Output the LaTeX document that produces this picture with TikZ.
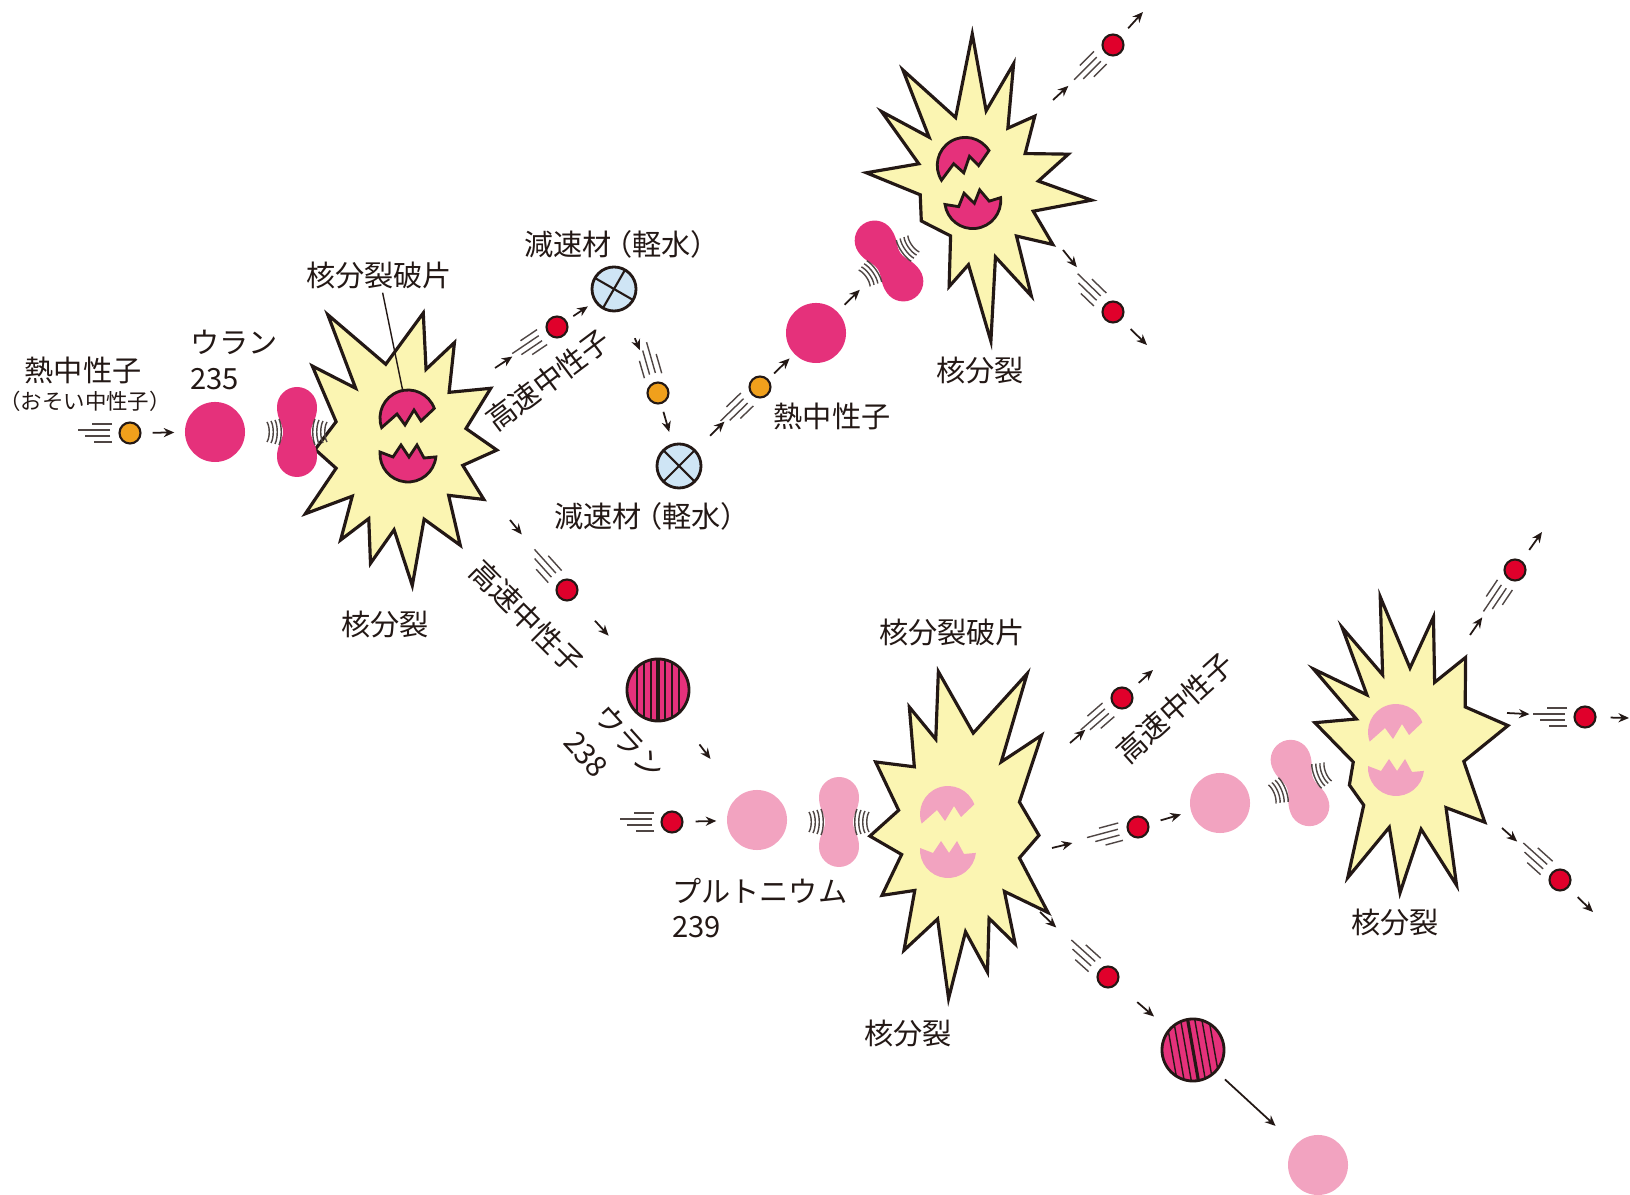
\documentclass[tikz,border=0pt]{standalone}
\usepackage{fontspec}
\newfontfamily\jp{Noto Sans CJK JP}
\usetikzlibrary{arrows.meta}

\definecolor{uranium}{HTML}{E5317B}
\definecolor{plutonium}{HTML}{F2A3C0}
\definecolor{flashfill}{HTML}{FBF5B2}
\definecolor{slowcol}{HTML}{F0A01C}
\definecolor{fastcol}{HTML}{E0002B}
\definecolor{watercol}{HTML}{CFE5F5}
\definecolor{ink}{HTML}{231815}

\tikzset{
  lbl/.style={font=\jp\fontsize{8.3}{10}\selectfont, text=ink, inner sep=1pt},
  slow/.style={circle, draw=ink, line width=.6pt, fill=slowcol, minimum size=.21cm, inner sep=0},
  fast/.style={circle, draw=ink, line width=.6pt, fill=fastcol, minimum size=.21cm, inner sep=0},
  u235/.style={circle, fill=uranium, minimum size=.60cm, inner sep=0},
  pu239/.style={circle, fill=plutonium, minimum size=.60cm, inner sep=0},
  % stripes tilted by #1 degrees
  u238/.style={circle, draw=ink, line width=.8pt, fill=uranium, minimum size=.62cm, inner sep=0,
    path picture={
      \foreach \s in {-21,-14,-7,7,14,21}
        \draw[ink, line width=.4pt] (path picture bounding box.center) ++(-#1:\s) ++(90-#1:-35) -- ++(90-#1:70);
      \draw[ink, line width=.9pt] (path picture bounding box.center) ++(90-#1:-35) -- ++(90-#1:70);
    }},
  u238/.default=0,
  % water molecule with a cross turned by #1 degrees
  mod/.style={circle, draw=ink, line width=.8pt, fill=watercol, minimum size=.44cm, inner sep=0,
    path picture={
      \draw[ink, line width=.6pt] (path picture bounding box.center) ++(#1:-25) -- ++(#1:50);
      \draw[ink, line width=.6pt] (path picture bounding box.center) ++(90+#1:-25) -- ++(90+#1:50);
    }},
  mod/.default=30,
  arr/.style={draw=ink, line width=.5pt, -{Stealth[length=3pt, width=2.6pt]}},
  trailline/.style={draw=ink!80, line width=.4pt},
  wobble/.style={draw=ink!80, line width=.4pt},
  flashline/.style={draw=ink, line width=.9pt, fill=flashfill},
  fragdark/.style={fill=uranium, draw=ink, line width=.8pt},
  fraglight/.style={fill=plutonium},
  leader/.style={draw=ink, line width=.4pt},
}

% outlines of the fission flashes, angle:radius around the centre
\newcommand{\flashA}{(-138:118) -- (-128:72) -- (-119:149) -- (-100:82) -- (-80:134)
  -- (-71:80) -- (-62:116) -- (-47:72) -- (-32:107) -- (-14:68) -- (3:97)
  -- (18:66) -- (33:100) -- (46:70) -- (59:117) -- (72:78) -- (85:141)
  -- (94:85) -- (104:122) -- (113:80) -- (122:112) -- (133:70) -- (144:117)
  -- (160:68) -- (177:85) -- (200:68)}
\newcommand{\flashB}{(-171:110) -- (-155:62) -- (-140:122) -- (-131:70) -- (-121:140)
  -- (-105:75) -- (-91:156) -- (-82:80) -- (-73:132) -- (-62:70) -- (-51:95)
  -- (-36:62) -- (-21:100) -- (-8:64) -- (5:117) -- (20:62) -- (35:95) -- (48:62)
  -- (62:120) -- (73:70) -- (84:152) -- (95:75) -- (105:100) -- (118:52)
  -- (150:62) -- (175:55)}
\newcommand{\flashC}{(-164:99) -- (-150:62) -- (-140:126) -- (-128:70) -- (-119:140)
  -- (-110:80) -- (-101:156) -- (-90:82) -- (-80:135) -- (-70:72) -- (-59:108)
  -- (-38:70) -- (-14:101) -- (12:55) -- (44:104) -- (58:68) -- (71:143)
  -- (82:80) -- (94:143) -- (105:80) -- (116:142) -- (130:72) -- (150:70) -- (168:58)}

% star shaped flash of a fission
\newcommand{\fissionflash}[3]{%
  \begin{scope}[shift={(#1)}, #2]
    \draw[flashline] #3 -- cycle;
  \end{scope}}

% the two fragments of a split nucleus
\newcommand{\splitnucleus}[3]{%
  \begin{scope}[shift={(#1)}, rotate=#2]
    \begin{scope}[shift={(0,-18)}]
      \path[#3] (160:28) arc[start angle=160, end angle=340, radius=28]
        -- (13,3) -- (6,-8) -- (-3,7) -- (-11,-4) -- cycle;
    \end{scope}
    \begin{scope}[shift={(0,18)}]
      \path[#3] (6:28) arc[start angle=6, end angle=184, radius=28]
        -- (-15,3) -- (-7,-9) -- (1,3) -- (9,-9) -- (16,4) -- cycle;
    \end{scope}
  \end{scope}}

% nucleus stretched before it splits
\newcommand{\wobblenucleus}[3]{%
  \begin{scope}[shift={(#1)}, rotate=#2]
    \fill[#3] (0,-45) .. controls (11,-45) and (20,-36) .. (20,-25)
      .. controls (20,-12) and (14,-9) .. (14,0)
      .. controls (14,9) and (20,12) .. (20,25)
      .. controls (20,36) and (11,45) .. (0,45)
      .. controls (-11,45) and (-20,36) .. (-20,25)
      .. controls (-20,12) and (-14,9) .. (-14,0)
      .. controls (-14,-9) and (-20,-12) .. (-20,-25)
      .. controls (-20,-36) and (-11,-45) .. (0,-45) -- cycle;
    \foreach \d/\h in {18/13,22/12,26/11,30/10}{
      \draw[wobble] (-\d,-\h) .. controls (-\d+3,-\h/2) and (-\d+3,\h/2) .. (-\d,\h);
      \draw[wobble] (\d,-\h) .. controls (\d-3,-\h/2) and (\d-3,\h/2) .. (\d,\h);
    }
  \end{scope}}

% speed lines behind a neutron
\newcommand{\speedlines}[2]{%
  \begin{scope}[shift={(#1.center)}, rotate=#2]
    \draw[trailline] (-18,-9) -- (-38,-9) (-20,-3) -- (-52,-3)
      (-20,3) -- (-45,3) (-18,9) -- (-36,9);
  \end{scope}}

\begin{document}
\begin{tikzpicture}[x=0.01cm, y=-0.01cm]
\useasboundingbox (0,0) rectangle (1630,1195);

% fission centres and stretched nuclei
\coordinate (b0) at (400,445);
\coordinate (b1) at (975,190);
\coordinate (b2) at (960,830);
\coordinate (b3) at (1410,750);
\coordinate (p0) at (297,432);
\coordinate (p1) at (889,261);
\coordinate (p2) at (839,822);
\coordinate (p3) at (1300,783);

\fissionflash{b0}{}{\flashA}
\fissionflash{b1}{}{\flashB}
\fissionflash{b2}{xscale=-0.93, yscale=1.2}{\flashA}
\fissionflash{b3}{}{\flashC}

\wobblenucleus{p0}{0}{uranium}
\wobblenucleus{p1}{35}{uranium}
\wobblenucleus{p2}{0}{plutonium}
\wobblenucleus{p3}{22}{plutonium}

\coordinate (n0c) at (408,436);
\coordinate (n1c) at (969,183);
\coordinate (n2c) at (948,832);
\coordinate (n3c) at (1396,750);
\splitnucleus{n0c}{0}{fragdark}
\splitnucleus{n1c}{12}{fragdark}
\splitnucleus{n2c}{0}{fraglight}
\splitnucleus{n3c}{0}{fraglight}
\coordinate (frag0) at (403,392);

% particles
\node[slow] (n0) at (130,433) {};
\node[u235] (u0) at (215,432) {};
\node[fast] (f1) at (557,327) {};
\node[mod] (m1) at (614,289) {};
\node[slow] (s1) at (658,393) {};
\node[mod=45] (m2) at (679,466) {};
\node[slow] (s2) at (760,387) {};
\node[u235] (u1) at (816,333) {};
\node[fast] (t1) at (1113,45) {};
\node[fast] (t2) at (1113,312) {};
\node[fast] (f2) at (567,590) {};
\node[u238] (u2) at (658,690) {};
\node[fast] (f3) at (672,822) {};
\node[pu239] (pu1) at (757,820) {};
\node[fast] (f4) at (1122,698) {};
\node[fast] (f5) at (1138,827) {};
\node[pu239] (pu2) at (1220,803) {};
\node[fast] (f6) at (1108,977) {};
\node[u238=10] (u3) at (1193,1050) {};
\node[pu239] (pu3) at (1318,1165) {};
\node[fast] (g1) at (1515,570) {};
\node[fast] (g2) at (1585,717) {};
\node[fast] (g3) at (1560,880) {};

\speedlines{n0}{0}
\speedlines{f1}{34}
\speedlines{s1}{-74}
\speedlines{s2}{44}
\speedlines{t1}{45}
\speedlines{t2}{-44}
\speedlines{f2}{-48}
\speedlines{f3}{0}
\speedlines{f4}{41}
\speedlines{f5}{15}
\speedlines{f6}{-42}
\speedlines{g1}{56}
\speedlines{g2}{0}
\speedlines{g3}{-42}

% arrow starts at the flashes, free arrow ends
\coordinate (b0a) at (495,368);
\coordinate (b0b) at (510,520);
\coordinate (b1a) at (1053,100);
\coordinate (b1b) at (1063,250);
\coordinate (b2a) at (1070,743);
\coordinate (b2b) at (1052,848);
\coordinate (b2c) at (1040,912);
\coordinate (b3a) at (1470,635);
\coordinate (b3b) at (1507,713);
\coordinate (b3c) at (1502,828);
\coordinate (t1o) at (1143,12);
\coordinate (t2o) at (1147,345);
\coordinate (f4o) at (1153,670);
\coordinate (g1o) at (1542,532);
\coordinate (g2o) at (1629,718);
\coordinate (g3o) at (1593,912);

\draw[arr, shorten <=.11cm, shorten >=.10cm] (n0) -- (u0);
\draw[arr, shorten >=.42cm] (b0a) -- (f1);
\draw[arr, shorten <=.08cm, shorten >=.08cm] (f1) -- (m1);
\draw[arr, shorten <=.30cm, shorten >=.35cm] (m1) -- (s1);
\draw[arr, shorten <=.08cm, shorten >=.12cm] (s1) -- (m2);
\draw[arr, shorten <=.20cm, shorten >=.38cm] (m2) -- (s2);
\draw[arr, shorten <=.08cm, shorten >=.06cm] (s2) -- (u1);
\draw[arr, shorten <=.095cm, shorten >=.41cm] (u1) -- (p1);
\draw[arr, shorten >=.49cm] (b1a) -- (t1);
\draw[arr, shorten <=.11cm] (t1) -- (t1o);
\draw[arr, shorten >=.46cm] (b1b) -- (t2);
\draw[arr, shorten <=.13cm] (t2) -- (t2o);
\draw[arr, shorten >=.60cm] (b0b) -- (f2);
\draw[arr, shorten <=.30cm, shorten >=.41cm] (f2) -- (u2);
\draw[arr, shorten <=.36cm, shorten >=.46cm] (u2) -- (pu1);
\draw[arr, shorten <=.12cm, shorten >=.10cm] (f3) -- (pu1);
\draw[arr, shorten >=.37cm] (b2a) -- (f4);
\draw[arr, shorten <=.11cm] (f4) -- (f4o);
\draw[arr, shorten >=.56cm] (b2b) -- (f5);
\draw[arr, shorten <=.12cm, shorten >=.10cm] (f5) -- (pu2);
\draw[arr, shorten >=.60cm] (b2c) -- (f6);
\draw[arr, shorten <=.27cm, shorten >=.19cm] (f6) -- (u3);
\draw[arr, shorten <=.11cm, shorten >=.27cm] (u3) -- (pu3);
\draw[arr, shorten >=.46cm] (b3a) -- (g1);
\draw[arr, shorten <=.13cm] (g1) -- (g1o);
\draw[arr, shorten >=.44cm] (b3b) -- (g2);
\draw[arr, shorten <=.14cm] (g2) -- (g2o);
\draw[arr, shorten >=.46cm] (b3c) -- (g3);
\draw[arr, shorten <=.13cm] (g3) -- (g3o);

% labels
\node[lbl] (slowlbl) at (83,370) {熱中性子};
\node[lbl, font=\jp\fontsize{6.1}{7}\selectfont] (slowsub) at (85,401) {（おそい中性子）};
\node[lbl, anchor=west, align=left] (u235lbl) at (186,360) {ウラン\\235};
\node[lbl] (fraglbl) at (379,275) {核分裂破片};
\draw[leader] (fraglbl) -- (frag0);
\node[lbl] (fis0) at (385,624) {核分裂};
\node[lbl, rotate=37] (fastup) at (548,380) {高速中性子};
\node[lbl] (modtop) at (622,244) {減速材\kern-.3em（軽水）};
\node[lbl] (modbot) at (652,516) {減速材\kern-.3em（軽水）};
\node[lbl] (slowlbl2) at (832,416) {熱中性子};
\node[lbl] (fis1) at (980,370) {核分裂};
\node[lbl, rotate=-45] (fastdown) at (527,617) {高速中性子};
\node[lbl, rotate=-48, align=left, font=\jp\fontsize{8.3}{11.5}\selectfont] (u238lbl) at (615,755) {ウラン\\238};
\node[lbl, anchor=west, align=left] (pulbl) at (668,908) {プルトニウム\\239};
\node[lbl] (fraglbl2) at (952,632) {核分裂破片};
\node[lbl] (fis2) at (908,1033) {核分裂};
\node[lbl, rotate=42] (fastright) at (1175,708) {高速中性子};
\node[lbl] (fis3) at (1395,922) {核分裂};
\end{tikzpicture}
\end{document}
